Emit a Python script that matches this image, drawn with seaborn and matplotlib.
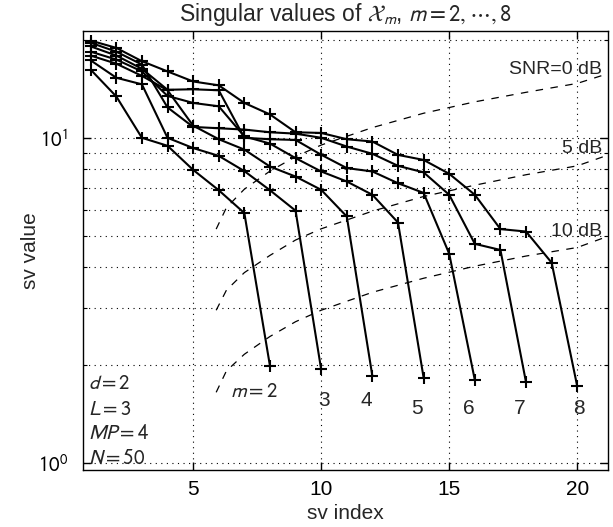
import numpy as np
import pandas as pd
import seaborn as sns
import matplotlib
matplotlib.use("Agg")
import matplotlib.pyplot as plt
from matplotlib.ticker import FixedLocator, NullFormatter, LogLocator

# ---- data ----
m_values = [2, 3, 4, 5, 6, 7, 8]
sv_m2 = [16.2, 13.4, 10.0, 9.45, 7.97, 6.9, 5.87, 1.99]
sv_m3 = [17.3, 15.3, 14.6, 10.0, 9.3, 8.8, 7.9, 6.9, 5.97, 1.94]
sv_m4 = [17.9, 16.9, 15.5, 14.0, 10.9, 9.9, 9.2, 8.16, 7.6, 6.92, 5.73, 1.85]
sv_m5 = [18.4, 17.4, 16.0, 13.45, 12.8, 12.5, 10.1, 9.6, 8.66, 7.88, 7.34, 6.68, 5.49, 1.83]
sv_m6 = [19.1, 17.9, 16.3, 14.05, 14.1, 14.0, 10.0, 9.9, 9.85, 8.87, 8.07, 7.88, 7.25, 6.77, 4.40, 1.80]
sv_m7 = [19.6, 18.4, 16.8, 12.4, 10.8, 10.7, 10.6, 10.4, 10.3, 10.0, 9.4, 8.93, 8.2, 7.83, 6.68, 4.72, 4.52, 1.77]
sv_m8 = [19.9, 18.9, 17.2, 16.0, 14.9, 14.5, 12.8, 11.8, 10.4, 10.35, 9.9, 9.74, 8.86, 8.55, 7.75, 6.68, 5.24, 5.15, 4.13, 1.72]
sv_all = [sv_m2, sv_m3, sv_m4, sv_m5, sv_m6, sv_m7, sv_m8]

# SNR threshold curves (dashed)
snr_x = [5.9, 6.3, 7.0, 8.0, 9.0, 10.0, 12.0, 14.0, 16.0, 18.0, 20.0, 21.2]
snr_0db = [5.24, 6.1, 6.95, 7.9, 8.75, 9.5, 10.75, 11.9, 12.9, 13.8, 14.7, 15.75]
snr_5db = [2.95, 3.4, 3.85, 4.35, 4.85, 5.25, 5.95, 6.6, 7.15, 7.7, 8.2, 8.85]
snr_10db = [1.65, 1.92, 2.16, 2.45, 2.72, 2.95, 3.35, 3.7, 4.03, 4.33, 4.6, 4.98]
snr_labels = ["SNR=0 dB", "5 dB", "10 dB"]

m_label_text = ["$m=2$", "3", "4", "5", "6", "7", "8"]
param_text = ["$d=2$", "$L=3$", "$MP=4$", "$N=50$"]

# ---- tidy frames ----
rows = []
for m, sv in zip(m_values, sv_all):
    for i, v in enumerate(sv, start=1):
        rows.append({"m": m, "index": i, "sv": v})
df = pd.DataFrame(rows)

snr_rows = []
for name, vals in zip(snr_labels, [snr_0db, snr_5db, snr_10db]):
    for x, v in zip(snr_x, vals):
        snr_rows.append({"snr": name, "x": x, "v": v})
sdf = pd.DataFrame(snr_rows)

sns.set_theme(style="white")
plt.rcParams["font.family"] = ["Liberation Sans", "DejaVu Sans"]
plt.rcParams["mathtext.fontset"] = "stixsans"

fig = plt.figure(figsize=(6.13, 5.27), dpi=100)
ax = fig.add_axes([83/613, 1-470/527, (608-83)/613, (470-31)/527])

sns.lineplot(data=sdf, x="x", y="v", units="snr", estimator=None, sort=False,
             color="black", linestyle=(0, (6, 6)), linewidth=0.9, ax=ax, legend=False)

sns.lineplot(data=df, x="index", y="sv", hue="m", palette=["black"] * len(m_values),
             estimator=None, sort=False, marker="+", markersize=9, markeredgewidth=1.5,
             markeredgecolor="black", linestyle="-",
             linewidth=1.5, ax=ax, legend=False)

ax.set_yscale("log")
ax.set_xlim(0.7, 21.2)
ax.set_ylim(0.952, 21.3)

ax.xaxis.set_major_locator(FixedLocator([5, 10, 15, 20]))
ax.yaxis.set_major_locator(FixedLocator([1, 10]))
ax.yaxis.set_minor_locator(LogLocator(base=10, subs=np.arange(2, 10)))
ax.yaxis.set_minor_formatter(NullFormatter())
ax.set_yticklabels(["$10^0$", "$10^1$"])

ax.grid(True, which="major", axis="both", linestyle=(0, (1, 4)), color="black", linewidth=0.8)
ax.grid(True, which="minor", axis="y", linestyle=(0, (1, 4)), color="black", linewidth=0.8)

ax.tick_params(which="both", direction="in", top=True, right=True, bottom=True, left=True,
               labelsize=15, colors="black")
ax.tick_params(which="major", length=6, width=1)
ax.tick_params(which="minor", length=3, width=0.8)
ax.tick_params(axis="x", which="major", pad=7)
ax.tick_params(axis="y", which="major", pad=11)
for s in ax.spines.values():
    s.set_color("black")
    s.set_linewidth(1.0)

ax.set_xlabel("sv index", fontsize=15)
ax.xaxis.set_label_coords(0.5, -0.078)
ax.set_ylabel("sv value", fontsize=15)
ax.yaxis.set_label_coords(-0.082, 0.5)
ax.set_title(r"Singular values of $\mathcal{X}_m$, $m=2,\cdots,8$", fontsize=16.5, pad=7)

# SNR labels
ax.text(20.98, 16.2, snr_labels[0], ha="right", va="center", fontsize=14)
ax.text(20.98, 9.3, snr_labels[1], ha="right", va="center", fontsize=14)
ax.text(20.98, 5.15, snr_labels[2], ha="right", va="center", fontsize=14)

# m labels below curve ends
m_label_pos = [(7.38, 1.66), (10.12, 1.56), (11.78, 1.56), (13.76, 1.47), (15.75, 1.47), (17.75, 1.47), (20.05, 1.47)]
for t, (x, y) in zip(m_label_text, m_label_pos):
    ax.text(x, y, t, ha="center", va="center", fontsize=15)

# parameter block
for k, t in enumerate(param_text):
    ax.text(0.9, [1.76, 1.46, 1.23, 1.035][k], t, ha="left", va="center", fontsize=15)

fig.savefig("out.png", dpi=100)
